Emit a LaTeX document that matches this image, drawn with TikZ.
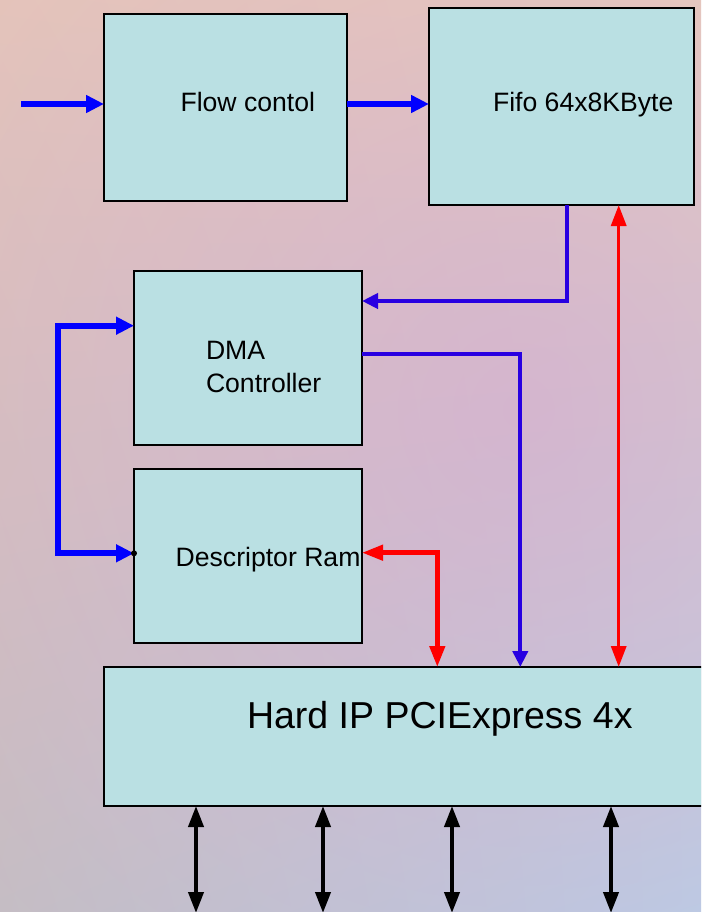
\documentclass[tikz,border=0pt]{standalone}
\usepackage{fontspec}
\setmainfont{Liberation Sans}
\usetikzlibrary{arrows.meta,fadings,shadings}
\tikzfading[name=mauvefade, inner color=transparent!0, outer color=transparent!100]
\definecolor{bgUL}{RGB}{229,197,186}
\definecolor{bgUR}{RGB}{233,207,186}
\definecolor{bgLL}{RGB}{197,189,196}
\definecolor{bgLR}{RGB}{186,207,230}
\definecolor{mauveC}{RGB}{212,160,212}
\definecolor{boxfill}{RGB}{186,224,227}
\definecolor{pureblue}{RGB}{0,0,255}
\definecolor{violetblue}{RGB}{40,0,225}
\definecolor{purered}{RGB}{255,0,0}
\tikzset{
  blockbox/.style={draw=black, line width=1.6pt, fill=boxfill, inner sep=0pt, outer sep=0pt},
  lbl/.style={anchor=base west, inner sep=0pt, outer sep=0pt, font=\fontsize{26.6}{31}\selectfont},
  biglbl/.style={anchor=base west, inner sep=0pt, outer sep=0pt, font=\fontsize{37.5}{44}\selectfont},
  thickblue/.style={draw=pureblue, line width=6pt, -{Triangle[length=18pt,width=17pt]}},
  loopblue/.style={draw=pureblue, line width=6pt, {Triangle[length=18pt,width=17pt]}-{Triangle[length=18pt,width=17pt]}},
  vblue/.style={draw=violetblue, line width=4pt, -{Triangle[length=16pt,width=15pt]}},
  redlong/.style={draw=purered, line width=3.3pt, {Triangle[length=21pt,width=15pt]}-{Triangle[length=21pt,width=15pt]}},
  redelbow/.style={draw=purered, line width=4.5pt, {Triangle[length=21pt,width=15pt]}-{Triangle[length=21pt,width=15pt]}},
  blackbi/.style={draw=black, line width=4pt, {Triangle[length=21pt,width=15pt]}-{Triangle[length=21pt,width=15pt]}}
}
\begin{document}
\begin{tikzpicture}[x=1pt,y=-1pt]
\useasboundingbox (0,0) rectangle (701,912);
\clip (0,0) rectangle (701,912);
% background
\shade[upper left=bgUL, upper right=bgUR, lower left=bgLL, lower right=bgLR] (0,0) rectangle (701,912);
\fill[mauveC, path fading=mauvefade, fill opacity=0.5] (520,410) ellipse [x radius=700pt, y radius=700pt];

% blocks
\node[blockbox, minimum width=243pt, minimum height=187pt] (flow) at (225.5,107.5) {};
\node[blockbox, minimum width=265pt, minimum height=197pt] (fifo) at (561.5,106.5) {};
\node[blockbox, minimum width=228pt, minimum height=174pt] (dma) at (248,358) {};
\node[blockbox, minimum width=228pt, minimum height=174pt] (ram) at (248,556) {};
\node[blockbox, minimum width=640pt, minimum height=139pt] (pcie) at (424,736.5) {};

% labels
\node[lbl] (flowtxt) at (180.5,111.5) {Flow contol};
\node[lbl] (fifotxt) at (493,111.5) {Fifo 64x8KByte};
\node[lbl] (dmatxt1) at (206,359.5) {DMA};
\node[lbl] (dmatxt2) at (206,392.5) {Controller};
\node[lbl] (ramtxt) at (175.7,566) {Descriptor Ram};
\node[biglbl] (pcietxt) at (247,728.5) {Hard IP PCIExpress 4x};

% connectors
\coordinate (in) at (21,104);
\draw[thickblue] (in) -- (in -| flow.west);
\draw[thickblue] (in -| flow.east) -- (in -| fifo.west);

\coordinate (c1) at (566.5,301);
\draw[vblue] (c1 |- fifo.south) -- (c1) -- (c1 -| dma.east);

\coordinate (c2) at (520.3,354.3);
\draw[vblue] (c2 -| dma.east) -- (c2) -- (c2 |- pcie.north);

\coordinate (c3) at (618.7,400);
\draw[redlong] (c3 |- fifo.south) -- (c3 |- pcie.north);

\coordinate (c4) at (437.3,552.7);
\draw[redelbow] (c4 -| ram.east) -- (c4) -- (c4 |- pcie.north);

\coordinate (c5) at (58,325.7);
\coordinate (c6) at (58,553.3);
\draw[loopblue] (c5 -| dma.west) -- (c5) -- (c6) -- (c6 -| ram.west);
\fill[black] (c6 -| ram.west) circle [radius=3pt];

\coordinate (b1) at (196,913);
\coordinate (b2) at (323,913);
\coordinate (b3) at (452,913);
\coordinate (b4) at (611,913);
\draw[blackbi] (b1 |- pcie.south) -- (b1);
\draw[blackbi] (b2 |- pcie.south) -- (b2);
\draw[blackbi] (b3 |- pcie.south) -- (b3);
\draw[blackbi] (b4 |- pcie.south) -- (b4);
\end{tikzpicture}
\end{document}
